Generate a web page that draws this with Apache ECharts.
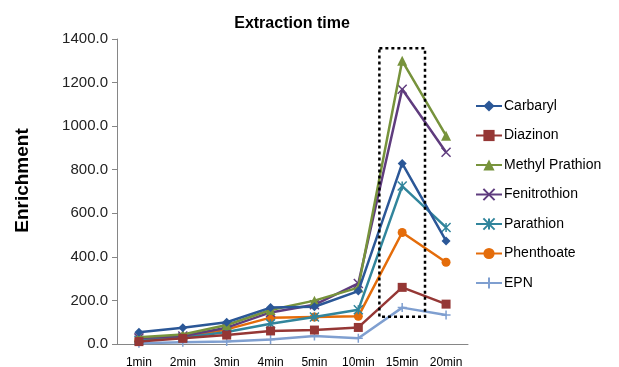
<!DOCTYPE html>
<html>
<head>
<meta charset="utf-8">
<script src="https://cdn.jsdelivr.net/npm/echarts@6/dist/echarts.min.js"></script>
<style>html,body{margin:0;padding:0;background:#fff}#c{width:619px;height:367px}</style>
</head>
<body>
<div id="c"></div>
<script>
var categories = ['1min','2min','3min','4min','5min','10min','15min','20min'];
var seriesNames = ['Carbaryl','Diazinon','Methyl Prathion','Fenitrothion','Parathion','Phenthoate','EPN'];
var carbaryl   = [54, 75, 100, 167, 171, 243, 829, 473];
var diazinon   = [11, 26, 41, 60, 64, 76, 260, 183];
var methylPrathion = [31, 44, 87, 156, 199, 259, 1300, 956];
var fenitrothion = [28, 37, 75, 145, 180, 278, 1169, 880];
var parathion  = [17, 29, 55, 93, 124, 157, 725, 535];
var phenthoate = [17, 32, 67, 121, 124, 127, 512, 375];
var epn        = [3, 8, 11, 21, 37, 26, 167, 133];
var yTicks = [0, 200, 400, 600, 800, 1000, 1200, 1400];
var boxRange = {category: '15min', low: 125, high: 1357};

var colors = ['#2B5797','#953735','#77933C','#5F3C7E','#31859C','#E46C0A','#7F9FD0'];
var symbols = ['diamond','rect','triangle',
  'path://M0,0L10,10M10,0L0,10',
  'path://M0,0L10,10M10,0L0,10M5,0L5,10',
  'circle',
  'path://M0,5L10,5M5,0L5,10'];
var symbolSizes = [9, 9, 10, 9, 9, 9, 9];
var datasets = [carbaryl, diazinon, methylPrathion, fenitrothion, parathion, phenthoate, epn];

var chart = echarts.init(document.getElementById('c'));
var series = seriesNames.map(function(n, i){
  var isPath = symbols[i].indexOf('path://') === 0;
  return {
    name: n, type: 'line', data: datasets[i],
    symbol: symbols[i], symbolSize: symbolSizes[i],
    lineStyle: {color: colors[i], width: 2.5},
    itemStyle: isPath ? {color: 'rgba(0,0,0,0)', borderColor: colors[i], borderWidth: 1.5} : {color: colors[i]},
    z: 10 - i
  };
});
chart.setOption({
  animation: false,
  title: {text: 'Extraction time', left: 287, top: 11, textAlign: 'center',
    textStyle: {fontFamily: 'Liberation Sans', fontSize: 16, fontWeight: 'bold', color: '#000'}},
  grid: {left: 117, right: 151, top: 39, bottom: 23, containLabel: false, outerBoundsMode: 'none'},
  legend: {orient: 'vertical', left: 470, top: 94, itemWidth: 26, itemHeight: 14, itemGap: 15.5,
    textStyle: {fontFamily: 'Liberation Sans', fontSize: 14, color: '#000', padding: [0,0,0,-3]},
    data: seriesNames},
  xAxis: {type: 'category', data: categories, boundaryGap: true,
    axisLine: {lineStyle: {color: '#868686', width: 1}},
    axisTick: {show: false},
    axisLabel: {interval: 0, fontFamily: 'Liberation Sans', fontSize: 12, color: '#000', margin: 13}},
  yAxis: {type: 'value', min: yTicks[0], max: yTicks[yTicks.length-1], interval: 200,
    name: 'Enrichment', nameLocation: 'middle', nameGap: 85, nameRotate: 90,
    nameTextStyle: {fontFamily: 'Liberation Sans', fontSize: 19, fontWeight: 'bold', color: '#000', padding:[0,0,0,22]},
    axisLine: {show: true, lineStyle: {color: '#868686', width: 1}},
    axisTick: {show: true, length: 5, lineStyle: {color: '#868686'}},
    splitLine: {show: false},
    axisLabel: {fontFamily: 'Liberation Sans', fontSize: 15, color: '#222', margin: 9,
      formatter: function(v){ return v.toFixed(1); }}},
  series: series
});

function drawBox(){
  var ci = categories.indexOf(boxRange.category);
  var pc = chart.convertToPixel({xAxisIndex: 0}, ci);
  var pn = chart.convertToPixel({xAxisIndex: 0}, ci + 1);
  var half = (pn - pc) * 0.52;
  var top = chart.convertToPixel({yAxisIndex: 0}, boxRange.high);
  var bot = chart.convertToPixel({yAxisIndex: 0}, boxRange.low);
  chart.setOption({graphic: [{type: 'rect', z: 100,
    shape: {x: pc - half, y: top, width: 2*half, height: bot - top},
    style: {fill: 'none', stroke: '#000', lineWidth: 2.5, lineDash: [3, 3]}}]});
}
drawBox();
</script>
</body>
</html>
